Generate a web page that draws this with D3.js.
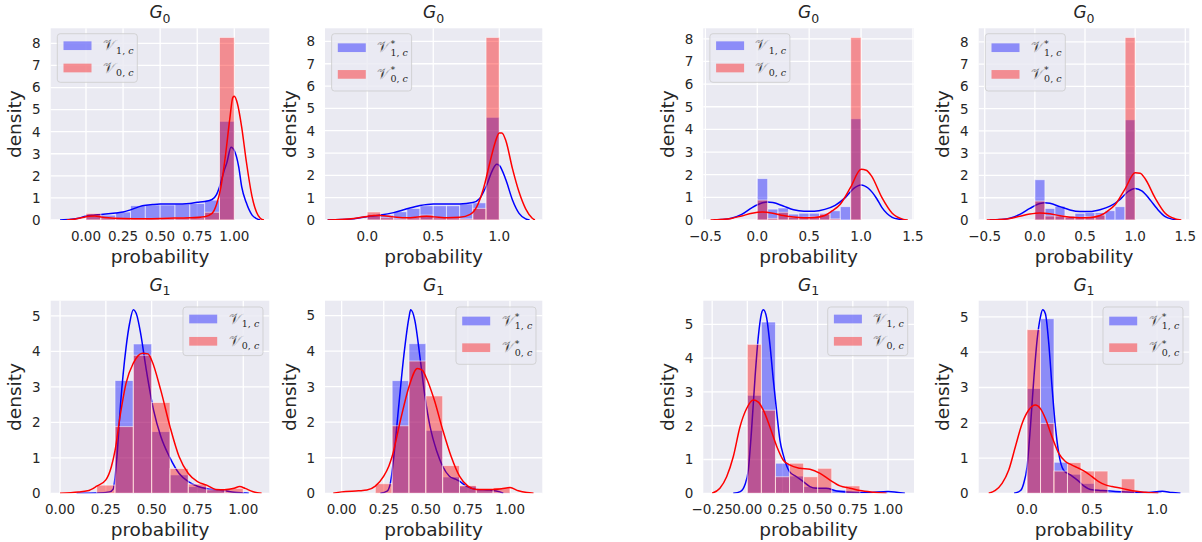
<!DOCTYPE html>
<html><head><meta charset="utf-8">
<script src="https://cdn.jsdelivr.net/npm/d3@7"></script>
<style>
body{margin:0;background:#fff}
svg{display:block}
text{font-family:"DejaVu Sans",sans-serif;fill:#262626}
</style>
</head><body>
<svg id="chart" width="1202" height="542"></svg>
<script>
// ---------------- DATA ----------------
const panelIds = ["A","B","C","D","E","F","G","H"];
const titleSubs = ["0","0","0","0","1","1","1","1"];
const legendStar = [false,true,false,true,false,true,false,true];
const legendSubs = ["1, c","0, c"];
const yLabel = "density";
const xLabel = "probability";

const xTickLabels = {
  A:["0.00","0.25","0.50","0.75","1.00"],
  B:["0.0","0.5","1.0"],
  C:["−0.5","0.0","0.5","1.0","1.5"],
  D:["−0.5","0.0","0.5","1.0","1.5"],
  E:["0.00","0.25","0.50","0.75","1.00"],
  F:["0.00","0.25","0.50","0.75","1.00"],
  G:["−0.25","0.00","0.25","0.50","0.75","1.00"],
  H:["0.0","0.5","1.0"]
};
const xLimits = {A:[-0.238,1.236],B:[-0.32,1.326],C:[-0.52,1.51],D:[-0.56,1.54],
                 E:[-0.051,1.142],F:[-0.099,1.192],G:[-0.313,1.185],H:[-0.372,1.248]};

const binStart = {A:0,B:0,C:0,D:0,E:0.2,F:0.2,G:0,H:0};
const binWidth = {A:0.1,B:0.1,C:0.1,D:0.1,E:0.1,F:0.1,G:0.1,H:0.1036};

const histBlueA = [0.19,0.22,0.36,0.65,0.68,0.68,0.72,0.75,0.9,4.47];
const histRedA  = [0.3,0.1,0.07,0.05,0.07,0.08,0.1,0.1,0.35,8.27];
const histBlueB = [0.25,0.22,0.37,0.52,0.64,0.64,0.64,0.72,0.77,4.6];
const histRedB  = [0.36,0.1,0.05,0.1,0.22,0.1,0.1,0.05,0.52,8.18];
const histBlueC = [1.83,0.48,0.53,0.26,0.3,0.3,0.3,0.41,0.59,4.47];
const histRedC  = [0.88,0.07,0.34,0.12,0.12,0.14,0.26,0.05,0,8.06];
const histBlueD = [1.81,0.52,0.62,0.18,0.3,0.33,0.33,0.42,0.6,4.5];
const histRedD  = [0.85,0.18,0.18,0.12,0.12,0.15,0.22,0,0,8.2];
const histBlueE = [0,3.18,4.21,1.74,0.52,0.19,0.1,0.02];
const histRedE  = [0.23,1.88,3.89,2.56,0.7,0.26,0.1,0.14];
const histBlueF = [0,3.17,4.21,1.77,0.46,0.2,0.09,0.02];
const histRedF  = [0.27,1.9,3.72,2.74,0.78,0.22,0.11,0.16];
const histBlueG = [2.9,5.07,0.89,0.51,0.2,0.15,0.1,0.05,0,0.03];
const histRedG  = [4.41,2.46,0.49,0.89,0.49,0.74,0,0.22,0,0];
const histBlueH = [2.97,4.95,0.88,0.54,0.28,0.1,0.05,0.03,0.02,0.04];
const histRedH  = [4.64,1.98,0.63,0.87,0.63,0.63,0,0.41,0,0];

const kdeBlueA = [[-0.175,0],[-0.1,0.03],[-0.05,0.08],[0,0.18],[0.05,0.22],[0.1,0.25],[0.2,0.32],[0.25,0.36],[0.3,0.46],[0.38,0.65],[0.45,0.7],[0.5,0.72],[0.6,0.72],[0.7,0.75],[0.75,0.8],[0.8,0.84],[0.85,0.93],[0.88,1.15],[0.9,1.5],[0.93,2.2],[0.95,2.6],[0.978,3.3],[1.0,3.15],[1.03,2.4],[1.05,1.5],[1.08,0.8],[1.12,0.22],[1.15,0.06],[1.175,0]];
const kdeRedA  = [[-0.13,0],[-0.08,0.03],[-0.03,0.1],[0.02,0.17],[0.06,0.18],[0.1,0.14],[0.15,0.1],[0.25,0.07],[0.4,0.06],[0.55,0.08],[0.7,0.1],[0.8,0.15],[0.85,0.3],[0.88,0.7],[0.91,1.5],[0.94,2.9],[0.97,4.6],[0.99,5.55],[1.0,5.6],[1.02,5.3],[1.05,4.2],[1.08,2.7],[1.12,1.05],[1.15,0.35],[1.175,0.08],[1.2,0]];
const kdeBlueB = [[-0.3,0],[-0.2,0.02],[-0.1,0.06],[0,0.15],[0.1,0.22],[0.2,0.33],[0.3,0.5],[0.4,0.65],[0.5,0.72],[0.6,0.72],[0.7,0.72],[0.8,0.78],[0.85,0.95],[0.9,1.5],[0.95,2.25],[0.98,2.5],[1.0,2.45],[1.05,1.8],[1.1,0.9],[1.15,0.3],[1.2,0.05],[1.23,0]];
const kdeRedB  = [[-0.3,0],[-0.2,0.02],[-0.1,0.07],[0,0.16],[0.05,0.2],[0.1,0.2],[0.2,0.14],[0.3,0.1],[0.4,0.15],[0.45,0.17],[0.5,0.14],[0.6,0.1],[0.7,0.12],[0.78,0.25],[0.83,0.6],[0.88,1.4],[0.93,2.6],[0.97,3.5],[1.0,3.9],[1.02,3.9],[1.05,3.55],[1.1,2.3],[1.15,1.25],[1.2,0.5],[1.25,0.08],[1.27,0]];
const kdeBlueC = [[-0.42,0],[-0.35,0.02],[-0.25,0.08],[-0.15,0.25],[-0.05,0.55],[0.05,0.76],[0.1,0.8],[0.15,0.77],[0.25,0.62],[0.35,0.45],[0.45,0.39],[0.55,0.39],[0.65,0.47],[0.75,0.65],[0.85,1.0],[0.93,1.4],[1.0,1.55],[1.07,1.4],[1.15,0.95],[1.2,0.56],[1.3,0.12],[1.37,0.03],[1.42,0]];
const kdeRedC  = [[-0.45,0],[-0.35,0.02],[-0.25,0.07],[-0.15,0.18],[-0.05,0.3],[0.05,0.35],[0.15,0.3],[0.25,0.2],[0.35,0.13],[0.45,0.1],[0.55,0.11],[0.65,0.2],[0.72,0.4],[0.8,0.7],[0.9,1.45],[1.0,2.24],[1.05,2.2],[1.1,1.95],[1.2,1.0],[1.3,0.3],[1.4,0.04],[1.45,0]];
const kdeBlueD = [[-0.45,0],[-0.35,0.02],[-0.25,0.08],[-0.15,0.25],[-0.05,0.52],[0.05,0.74],[0.1,0.78],[0.15,0.75],[0.25,0.6],[0.35,0.45],[0.45,0.38],[0.55,0.38],[0.65,0.46],[0.75,0.62],[0.85,0.92],[0.93,1.28],[1.0,1.42],[1.07,1.3],[1.15,0.9],[1.22,0.5],[1.3,0.15],[1.37,0.04],[1.43,0]];
const kdeRedD  = [[-0.48,0],[-0.35,0.02],[-0.25,0.07],[-0.15,0.17],[-0.05,0.27],[0.05,0.32],[0.15,0.28],[0.25,0.19],[0.35,0.12],[0.45,0.1],[0.55,0.11],[0.65,0.2],[0.72,0.38],[0.8,0.68],[0.9,1.4],[1.0,2.12],[1.05,2.1],[1.1,1.85],[1.2,0.98],[1.3,0.3],[1.4,0.05],[1.46,0]];
const kdeBlueE = [[0.09,0],[0.2,0.01],[0.27,0.04],[0.29,0.12],[0.31,1.0],[0.33,2.5],[0.36,4.1],[0.38,4.8],[0.4,5.17],[0.42,5.0],[0.44,4.5],[0.47,3.5],[0.51,2.35],[0.55,1.6],[0.6,1.0],[0.65,0.56],[0.7,0.33],[0.75,0.2],[0.8,0.13],[0.85,0.1],[0.9,0.07],[0.95,0.03],[1.0,0.01],[1.03,0]];
const kdeRedE  = [[0,0],[0.1,0.04],[0.15,0.07],[0.2,0.2],[0.25,0.38],[0.28,0.75],[0.3,1.2],[0.33,2.25],[0.36,3.1],[0.4,3.67],[0.45,3.95],[0.48,3.93],[0.5,3.75],[0.55,2.9],[0.6,1.88],[0.65,1.03],[0.7,0.56],[0.75,0.33],[0.8,0.23],[0.85,0.11],[0.9,0.1],[0.95,0.14],[0.98,0.19],[1.01,0.14],[1.05,0.05],[1.1,0]];
const kdeBlueF = [[0.23,0],[0.27,0.06],[0.29,0.3],[0.31,1.04],[0.34,2.5],[0.37,3.9],[0.4,4.95],[0.41,5.16],[0.435,4.86],[0.465,3.84],[0.495,2.72],[0.525,1.88],[0.565,1.18],[0.6,0.76],[0.64,0.48],[0.68,0.39],[0.7,0.34],[0.74,0.2],[0.8,0.11],[0.88,0.09],[0.94,0.04],[0.96,0]];
const kdeRedF  = [[-0.05,0],[0,0.04],[0.1,0.07],[0.15,0.09],[0.2,0.2],[0.25,0.48],[0.28,0.76],[0.3,1.04],[0.35,2.07],[0.4,3.0],[0.45,3.51],[0.48,3.46],[0.5,3.28],[0.55,2.63],[0.6,1.79],[0.65,1.04],[0.7,0.48],[0.75,0.2],[0.8,0.11],[0.85,0.11],[0.9,0.11],[0.95,0.13],[1.0,0.16],[1.05,0.07],[1.1,0.02],[1.14,0]];
const kdeBlueG = [[-0.1,0],[-0.05,0.05],[-0.017,0.25],[0.007,0.69],[0.03,1.87],[0.055,3.44],[0.078,4.63],[0.1,5.31],[0.114,5.43],[0.137,5.2],[0.16,4.43],[0.185,3.35],[0.21,2.36],[0.232,1.57],[0.256,1.13],[0.3,0.64],[0.35,0.49],[0.4,0.34],[0.445,0.2],[0.49,0.15],[0.56,0.15],[0.635,0.07],[0.7,0.04],[0.85,0.02],[1.0,0.05],[1.06,0.03],[1.12,0]];
const kdeRedG  = [[-0.25,0],[-0.195,0.15],[-0.147,0.49],[-0.1,1.08],[-0.052,1.97],[-0.005,2.51],[0.043,2.76],[0.078,2.7],[0.114,2.46],[0.16,1.97],[0.21,1.38],[0.256,0.98],[0.3,0.84],[0.374,0.74],[0.445,0.71],[0.517,0.59],[0.588,0.39],[0.659,0.22],[0.73,0.15],[0.8,0.08],[0.9,0.03],[0.99,0]];
const kdeBlueH = [[-0.1,0],[-0.05,0.08],[-0.026,0.28],[0,0.75],[0.026,1.89],[0.051,3.2],[0.077,4.34],[0.103,5.0],[0.12,5.2],[0.141,5.09],[0.167,4.25],[0.192,3.02],[0.218,1.89],[0.244,1.13],[0.28,0.66],[0.333,0.52],[0.385,0.38],[0.436,0.21],[0.487,0.11],[0.577,0.08],[0.68,0.05],[0.91,0.02],[1.04,0.06],[1.115,0.02],[1.18,0]];
const kdeRedH  = [[-0.295,0],[-0.244,0.08],[-0.192,0.28],[-0.141,0.66],[-0.09,1.32],[-0.038,1.98],[0.013,2.36],[0.064,2.5],[0.103,2.4],[0.141,2.12],[0.192,1.6],[0.244,1.13],[0.295,0.9],[0.346,0.8],[0.397,0.71],[0.449,0.61],[0.5,0.47],[0.551,0.33],[0.603,0.24],[0.654,0.19],[0.73,0.14],[0.81,0.07],[0.91,0.03],[1.01,0]];

const histBlue = {A:histBlueA,B:histBlueB,C:histBlueC,D:histBlueD,E:histBlueE,F:histBlueF,G:histBlueG,H:histBlueH};
const histRed  = {A:histRedA,B:histRedB,C:histRedC,D:histRedD,E:histRedE,F:histRedF,G:histRedG,H:histRedH};
const kdeBlue  = {A:kdeBlueA,B:kdeBlueB,C:kdeBlueC,D:kdeBlueD,E:kdeBlueE,F:kdeBlueF,G:kdeBlueG,H:kdeBlueH};
const kdeRed   = {A:kdeRedA,B:kdeRedB,C:kdeRedC,D:kdeRedD,E:kdeRedE,F:kdeRedF,G:kdeRedG,H:kdeRedH};

// ---------------- LAYOUT ----------------
const cols = [[50.7,269.3],[325,542.3],[703.3,914],[978.7,1189.3]];
const rows = [[28.3,220],[300.7,493.3]];
const BG = "#EAEAF2";
const BLUE = "#0000ff", RED = "#ff0000";

const svg = d3.select("#chart");
svg.append("rect").attr("width",1202).attr("height",542).attr("fill","#fff");
const defs = svg.append("defs");

const parseTick = s => +s.replace("−","-");

panelIds.forEach((id, i) => {
  const [L, R] = cols[i % 4];
  const [T, B] = rows[Math.floor(i / 4)];
  const hb = histBlue[id], hr = histRed[id], kb = kdeBlue[id], kr = kdeRed[id];
  const ymax = 1.05 * d3.max([d3.max(hb), d3.max(hr), d3.max(kb, d => d[1]), d3.max(kr, d => d[1])]);
  const x = d3.scaleLinear().domain(xLimits[id]).range([L, R]);
  const y = d3.scaleLinear().domain([0, ymax]).range([B, T]);
  const g = svg.append("g");

  defs.append("clipPath").attr("id", "clip" + id)
    .append("rect").attr("x", L).attr("y", T).attr("width", R - L).attr("height", B - T);

  g.append("rect").attr("x", L).attr("y", T).attr("width", R - L).attr("height", B - T).attr("fill", BG);

  const xt = xTickLabels[id].map(parseTick);
  const yt = d3.range(0, Math.floor(ymax) + 1);

  // grid
  g.selectAll(".gx").data(xt).join("line")
    .attr("x1", d => x(d)).attr("x2", d => x(d)).attr("y1", T).attr("y2", B)
    .attr("stroke", "#fff").attr("stroke-width", 1.3);
  g.selectAll(".gy").data(yt).join("line")
    .attr("x1", L).attr("x2", R).attr("y1", d => y(d)).attr("y2", d => y(d))
    .attr("stroke", "#fff").attr("stroke-width", 1.3);

  const plot = g.append("g").attr("clip-path", `url(#clip${id})`);
  const line = d3.line().x(d => x(d[0])).y(d => y(d[1])).curve(d3.curveMonotoneX);

  function bars(vals, color) {
    plot.append("g").selectAll("rect").data(vals).join("rect")
      .attr("x", (d, k) => x(binStart[id] + k * binWidth[id]))
      .attr("width", (d, k) => x(binStart[id] + (k + 1) * binWidth[id]) - x(binStart[id] + k * binWidth[id]))
      .attr("y", d => y(d)).attr("height", d => y(0) - y(d))
      .attr("fill", color).attr("fill-opacity", 0.4)
      .attr("stroke", "#fff").attr("stroke-opacity", 0.55).attr("stroke-width", 1)
      .style("display", d => d > 0 ? null : "none");
  }
  bars(hb, BLUE);
  plot.append("path").datum(kb).attr("d", line).attr("fill", "none").attr("stroke", BLUE).attr("stroke-width", 1.5);
  bars(hr, RED);
  plot.append("path").datum(kr).attr("d", line).attr("fill", "none").attr("stroke", RED).attr("stroke-width", 1.5);

  // tick labels
  g.selectAll(".xl").data(xTickLabels[id]).join("text")
    .attr("x", d => x(parseTick(d))).attr("y", B + 21)
    .attr("text-anchor", "middle").style("font-size", "13.5px").text(d => d);
  g.selectAll(".yl").data(yt).join("text")
    .attr("x", L - 10).attr("y", d => y(d)).attr("dy", "0.36em")
    .attr("text-anchor", "end").style("font-size", "13.5px").text(d => d);

  // axis labels
  g.append("text").attr("x", (L + R) / 2).attr("y", B + 43).attr("text-anchor", "middle")
    .style("font-size", "18.5px").text(xLabel);
  g.append("text").attr("transform", `translate(${L - 29.5},${(T + B) / 2}) rotate(-90)`)
    .attr("text-anchor", "middle").style("font-size", "18.5px").text(yLabel);

  // title
  const tt = g.append("text").attr("x", (L + R) / 2).attr("y", T - 10).attr("text-anchor", "middle");
  tt.append("tspan").style("font-style", "italic").style("font-size", "17px").text("G");
  tt.append("tspan").attr("dy", 4.4).style("font-size", "12.5px").text(titleSubs[i]);

  // legend
  const star = legendStar[i];
  const lw = 80, lh = star ? 57.3 : 48.6;
  const top = i < 4;
  const lx = top ? L + 6.6 : R - 6.3 - lw;
  const ly = top ? T + 5.4 : T + 6.3;
  const lg = g.append("g");
  lg.append("rect").attr("x", lx).attr("y", ly).attr("width", lw).attr("height", lh)
    .attr("rx", 3).attr("fill", BG).attr("fill-opacity", 0.8)
    .attr("stroke", "#cccccc").attr("stroke-opacity", 0.8).attr("stroke-width", 1);
  const rowsY = star ? [ly + 14, ly + 40.7] : [ly + 12, ly + 34.3];
  [BLUE, RED].forEach((c, k) => {
    const cy = rowsY[k];
    lg.append("rect").attr("x", lx + 6.2).attr("y", cy - 4.35).attr("width", 28).attr("height", 8.7)
      .attr("fill", c).attr("fill-opacity", 0.4);
    const tx = lx + 45.5, base = cy + 4.5;
    const v = lg.append("text").attr("x", tx).attr("y", base)
      .style("font-family", "'DejaVu Sans',sans-serif").style("font-size", "14.5px")
      .attr("stroke", "#EEEEF4").attr("stroke-width", 0.3).text("𝒱");
    const w = v.node().getComputedTextLength();
    if (star) lg.append("text").attr("x", tx + w + 0.3).attr("y", base - 5.5)
      .style("font-size", "9.5px").text("*");
    const s = lg.append("text").attr("x", tx + w + 0.3).attr("y", base + 3.3)
      .style("font-family", "'DejaVu Serif',serif").style("font-size", "9.5px");
    const parts = legendSubs[k].split(" ");
    s.append("tspan").text(parts[0] + " ");
    s.append("tspan").style("font-style", "italic").text(parts[1]);
  });
});
</script>
</body></html>
